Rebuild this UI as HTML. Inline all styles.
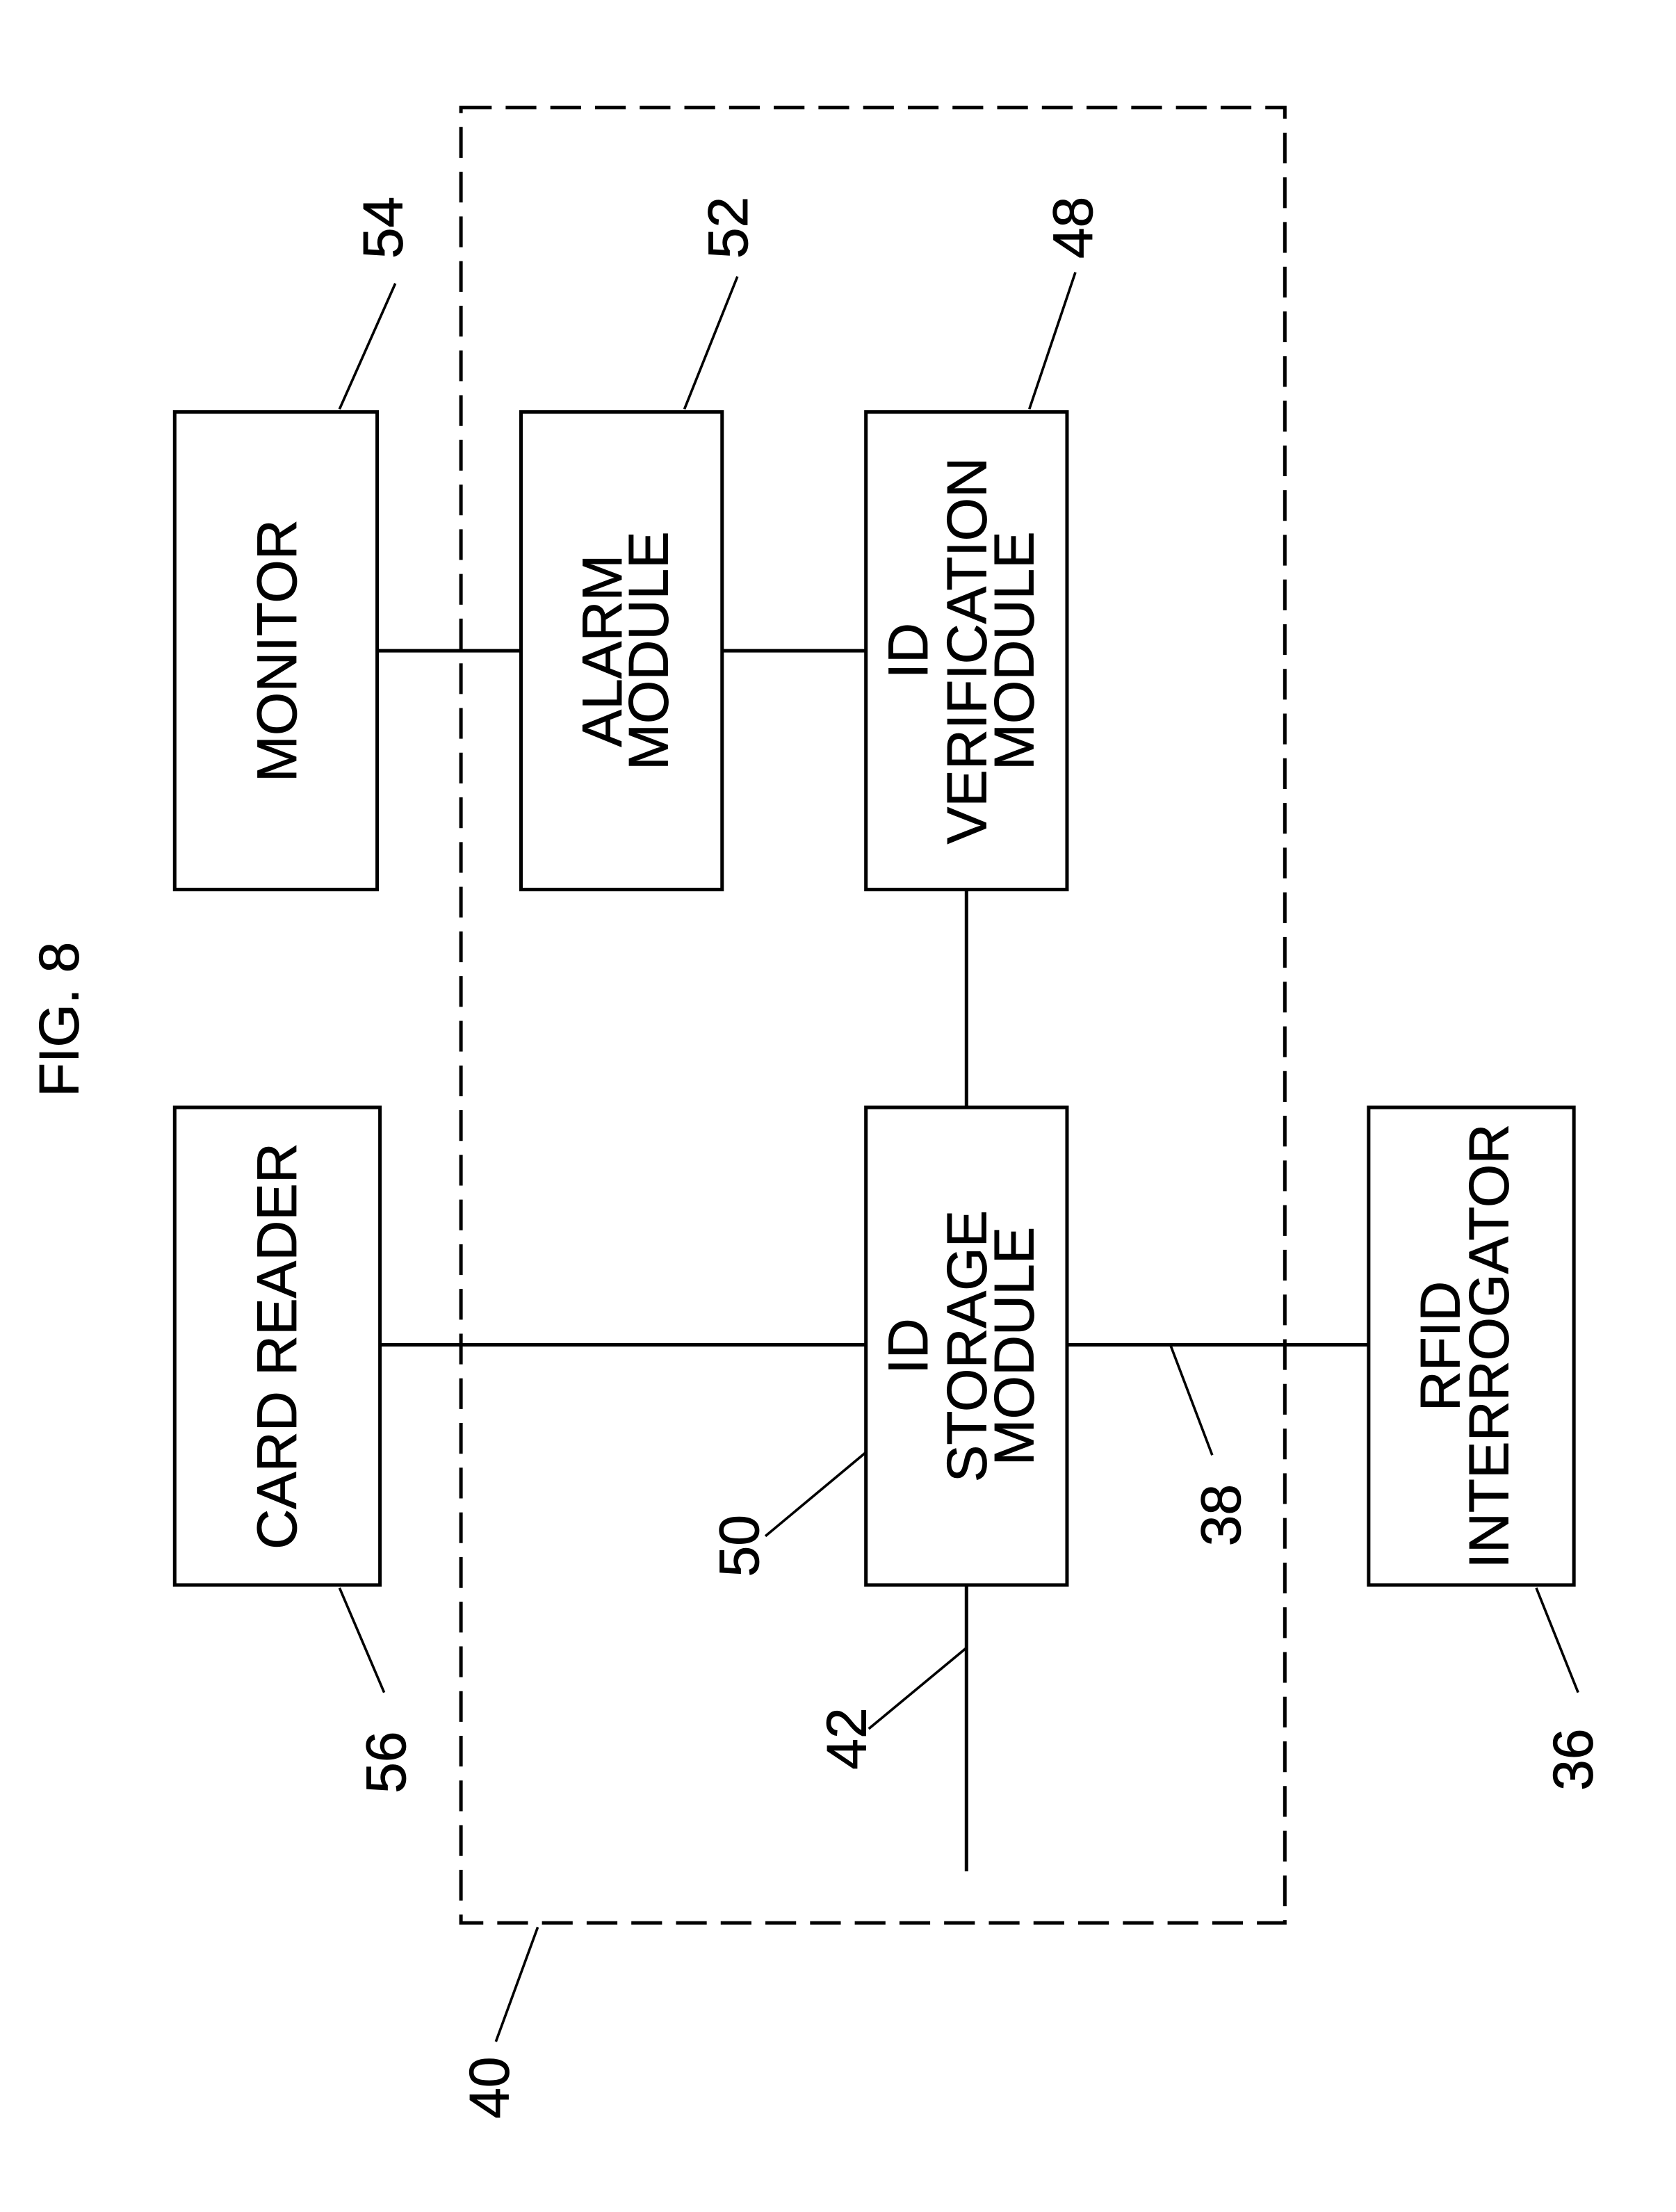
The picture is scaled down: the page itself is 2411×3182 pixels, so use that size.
<!DOCTYPE html>
<html><head><meta charset="utf-8"><style>html,body{margin:0;padding:0;background:#fff}svg{display:block}</style></head>
<body>
<svg width="2411" height="3182" viewBox="0 0 1200 1584" xmlns="http://www.w3.org/2000/svg" font-family="Liberation Sans, Arial, sans-serif" fill="none" stroke="#000" stroke-width="2.5">
<rect x="330" y="77" width="590" height="1300" stroke-dasharray="22,10"/>
<rect x="125" y="295" width="145" height="342"/>
<rect x="373" y="295" width="144" height="342"/>
<rect x="620" y="295" width="144" height="342"/>
<rect x="125" y="793" width="147" height="342"/>
<rect x="620" y="793" width="144" height="342"/>
<rect x="980" y="793" width="147" height="342"/>
<line x1="270" y1="466" x2="373" y2="466"/>
<line x1="517" y1="466" x2="620" y2="466"/>
<line x1="692" y1="637" x2="692" y2="793"/>
<line x1="272" y1="963" x2="620" y2="963"/>
<line x1="764" y1="963" x2="980" y2="963"/>
<line x1="692" y1="1135" x2="692" y2="1340"/>
<g stroke-width="1.8">
<line x1="243" y1="293" x2="283" y2="203"/>
<line x1="490" y1="293" x2="528" y2="198"/>
<line x1="737" y1="293" x2="770" y2="195"/>
<line x1="243" y1="1137" x2="275" y2="1212"/>
<line x1="620" y1="1040" x2="548" y2="1100"/>
<line x1="692" y1="1180" x2="622" y2="1238"/>
<line x1="838" y1="963" x2="868" y2="1042"/>
<line x1="1100" y1="1137" x2="1130" y2="1212"/>
<line x1="385" y1="1380" x2="355" y2="1462"/>
</g>
<g fill="#000" stroke="#000" stroke-width="0.4" font-size="40" text-anchor="middle">
<text transform="translate(212,466) rotate(-90)">MONITOR</text>
<text transform="translate(445,466) rotate(-90)">ALARM</text>
<text transform="translate(478,466) rotate(-90)">MODULE</text>
<text transform="translate(664,466) rotate(-90)">ID</text>
<text transform="translate(706,466) rotate(-90)">VERIFICATION</text>
<text transform="translate(740,466) rotate(-90)">MODULE</text>
<text transform="translate(212,964) rotate(-90)">CARD READER</text>
<text transform="translate(664,964) rotate(-90)">ID</text>
<text transform="translate(706,964) rotate(-90)">STORAGE</text>
<text transform="translate(740,964) rotate(-90)">MODULE</text>
<text transform="translate(1045,964) rotate(-90)">RFID</text>
<text transform="translate(1080,964) rotate(-90)">INTERROGATOR</text>
<text transform="translate(56,730) rotate(-90)">FIG. 8</text>
<text transform="translate(288,163) rotate(-90)">54</text>
<text transform="translate(535,163) rotate(-90)">52</text>
<text transform="translate(782,163) rotate(-90)">48</text>
<text transform="translate(290,1262) rotate(-90)">56</text>
<text transform="translate(543,1107) rotate(-90)">50</text>
<text transform="translate(620,1245) rotate(-90)">42</text>
<text transform="translate(888,1085) rotate(-90)">38</text>
<text transform="translate(1140,1260) rotate(-90)">36</text>
<text transform="translate(364,1495) rotate(-90)">40</text>
</g>
</svg>
</body></html>
